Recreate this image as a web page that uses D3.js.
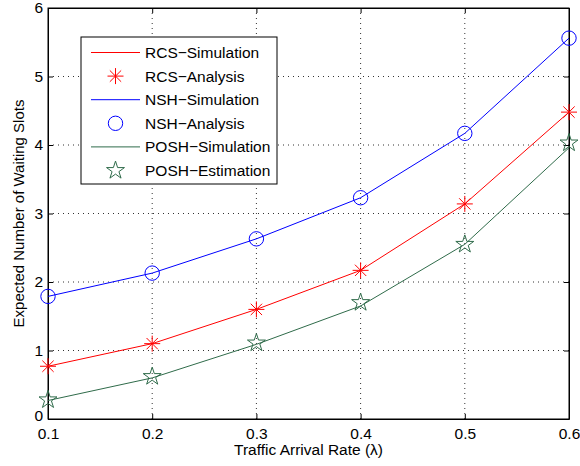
<!DOCTYPE html>
<html>
<head>
<meta charset="utf-8">
<script src="https://cdn.jsdelivr.net/npm/d3@7"></script>
<style>
  body { margin: 0; background: #fff; }
  text { font-family: "Liberation Sans", Arial, sans-serif; fill: #000; }
</style>
</head>
<body>
<div id="main"></div>
<script>
const rates = [0.1, 0.2, 0.3, 0.4, 0.5, 0.6];
const rcsSim = [0.77, 1.10, 1.60, 2.17, 3.14, 4.48];
const rcsAna = [0.77, 1.10, 1.60, 2.17, 3.14, 4.48];
const nshSim = [1.79, 2.13, 2.63, 3.23, 4.17, 5.56];
const nshAna = [1.79, 2.13, 2.63, 3.23, 4.17, 5.56];
const poshSim = [0.27, 0.60, 1.09, 1.65, 2.55, 3.96];
const poshEst = [0.28, 0.62, 1.11, 1.70, 2.55, 4.03];
const xTicks = [0.1, 0.2, 0.3, 0.4, 0.5, 0.6];
const yTicks = [0, 1, 2, 3, 4, 5, 6];

const width = 580;
const height = 466;
const margin = { top: 8, right: 11, bottom: 47, left: 48 };
const w = width - margin.left - margin.right;
const h = height - margin.top - margin.bottom;

const red = '#ff0000';
const blue = '#0000ff';
const green = '#2f6b4a';

const svg = d3.select('#main').append('svg')
  .attr('width', width)
  .attr('height', height);

const g = svg.append('g').attr('transform', `translate(${margin.left},${margin.top})`);

const x = d3.scaleLinear().domain([0.1, 0.6]).range([0, w]);
const y = d3.scaleLinear().domain([0, 6]).range([h, 0]);

// dotted grid
g.selectAll('.gx').data(xTicks.slice(1, -1)).enter().append('line')
  .attr('x1', (d) => x(d)).attr('x2', (d) => x(d))
  .attr('y1', 0).attr('y2', h)
  .attr('stroke', '#333').attr('stroke-width', 1).attr('stroke-dasharray', '1,4');
g.selectAll('.gy').data(yTicks.slice(1, -1)).enter().append('line')
  .attr('y1', (d) => y(d)).attr('y2', (d) => y(d))
  .attr('x1', 0).attr('x2', w)
  .attr('stroke', '#333').attr('stroke-width', 1).attr('stroke-dasharray', '1,4');

// axes (ticks inward, box on)
const xb = g.append('g').attr('transform', `translate(0,${h})`)
  .call(d3.axisBottom(x).tickValues(xTicks).tickSizeInner(-5).tickSizeOuter(0).tickPadding(9).tickFormat(d3.format('.1f')));
const xt = g.append('g')
  .call(d3.axisTop(x).tickValues(xTicks).tickSizeInner(-5).tickSizeOuter(0).tickFormat(''));
const yl = g.append('g')
  .call(d3.axisLeft(y).tickValues(yTicks).tickSizeInner(-5).tickSizeOuter(0).tickPadding(5).tickFormat(d3.format('d')));
const yr = g.append('g').attr('transform', `translate(${w},0)`)
  .call(d3.axisRight(y).tickValues(yTicks).tickSizeInner(-5).tickSizeOuter(0).tickFormat(''));

[xb, xt, yl, yr].forEach((a) => {
  a.attr('font-size', null).attr('font-family', null);
  a.select('.domain').attr('stroke', '#000').attr('stroke-width', 1);
  a.selectAll('.tick line').attr('stroke', '#000');
  a.selectAll('text').style('font-size', '15.5px').attr('fill', '#000');
});
// nudge the "0" so it clears the first x label
yl.selectAll('.tick text').filter((d) => d === 0).attr('dy', '0.1em');

g.append('rect').attr('x', 0).attr('y', 0).attr('width', w).attr('height', h)
  .attr('fill', 'none').attr('stroke', '#000').attr('stroke-width', 1);

// labels
svg.append('text')
  .attr('x', margin.left + w / 2).attr('y', 455)
  .attr('text-anchor', 'middle').style('font-size', '15.5px')
  .text('Traffic Arrival Rate (λ)');
svg.append('text')
  .attr('transform', `translate(24,${margin.top + h / 2}) rotate(-90)`)
  .attr('text-anchor', 'middle').style('font-size', '15px')
  .text('Expected Number of Waiting Slots');

const line = d3.line().x((d, i) => x(rates[i])).y((d) => y(d));

function drawLine(vals, color) {
  g.append('path').datum(vals)
    .attr('d', line)
    .attr('fill', 'none').attr('stroke', color).attr('stroke-width', 1);
}

const star5 = d3.symbol().type(d3.symbolStar).size(100);
function asterisk(sel, color) {
  const r = 8;
  [0, 45, 90, 135].forEach((a) => {
    const rad = a * Math.PI / 180;
    sel.append('line')
      .attr('x1', -r * Math.cos(rad)).attr('y1', -r * Math.sin(rad))
      .attr('x2', r * Math.cos(rad)).attr('y2', r * Math.sin(rad))
      .attr('stroke', color).attr('stroke-width', 1);
  });
}
function marker(sel, type, color) {
  if (type === 'asterisk') asterisk(sel, color);
  else if (type === 'circle') {
    sel.append('circle').attr('r', 7.2).attr('fill', 'none').attr('stroke', color).attr('stroke-width', 1);
  } else {
    sel.append('path').attr('d', star5).attr('fill', 'none').attr('stroke', color).attr('stroke-width', 1);
  }
}
function drawMarkers(vals, type, color) {
  g.selectAll(null).data(vals).enter().append('g')
    .attr('transform', (d, i) => `translate(${x(rates[i])},${y(d)})`)
    .each(function () { marker(d3.select(this), type, color); });
}

drawLine(rcsSim, red);
drawLine(nshSim, blue);
drawLine(poshSim, green);
drawMarkers(rcsAna, 'asterisk', red);
drawMarkers(nshAna, 'circle', blue);
drawMarkers(poshEst, 'star', green);

// legend
const legendItems = [
  { label: 'RCS\u2212Simulation', kind: 'line', color: red },
  { label: 'RCS\u2212Analysis', kind: 'asterisk', color: red },
  { label: 'NSH\u2212Simulation', kind: 'line', color: blue },
  { label: 'NSH\u2212Analysis', kind: 'circle', color: blue },
  { label: 'POSH\u2212Simulation', kind: 'line', color: green },
  { label: 'POSH\u2212Estimation', kind: 'star', color: green },
];

const legend = svg.append('g').attr('transform', 'translate(81,37)');
legend.append('rect').attr('width', 196).attr('height', 147)
  .attr('fill', '#fff').attr('stroke', '#000').attr('stroke-width', 1);

legendItems.forEach((it, i) => {
  const ly = 15.5 + i * 23.6;
  const row = legend.append('g').attr('transform', `translate(0,${ly})`);
  if (it.kind === 'line') {
    row.append('line').attr('x1', 10).attr('x2', 59).attr('y1', 0).attr('y2', 0)
      .attr('stroke', it.color).attr('stroke-width', 1);
  } else {
    const m = row.append('g').attr('transform', 'translate(34.5,0)');
    marker(m, it.kind, it.color);
  }
  row.append('text').attr('x', 64).attr('y', 0).attr('dy', '0.35em')
    .style('font-size', '15.5px').text(it.label);
});
</script>
</body>
</html>
